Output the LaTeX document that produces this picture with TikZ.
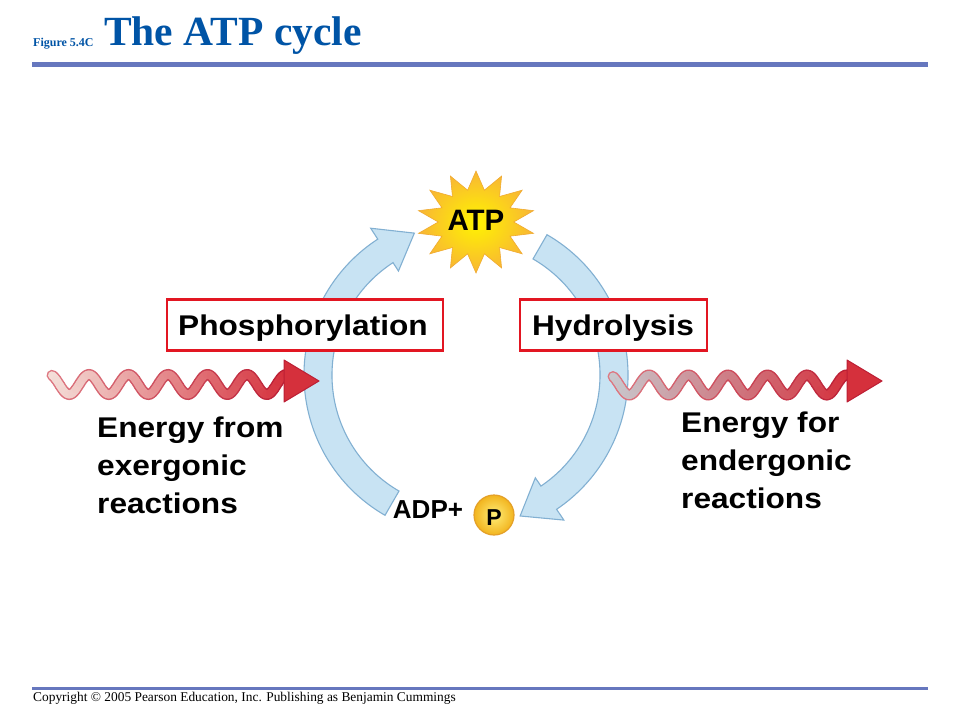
\documentclass[tikz,border=0pt]{standalone}
\usepackage{fontspec}
\setmainfont{Liberation Serif}
\setsansfont{Liberation Sans}
\newfontfamily\widesans[FakeStretch=1.11]{Liberation Sans}
\definecolor{titleblue}{RGB}{0,84,166}
\definecolor{rulecol}{RGB}{102,119,190}
\definecolor{arcfill}{RGB}{200,227,243}
\definecolor{arcline}{RGB}{130,176,210}
\definecolor{boxred}{RGB}{226,22,34}
\definecolor{waveL}{RGB}{244,222,216}
\definecolor{waveR}{RGB}{213,48,60}
\definecolor{waveG}{RGB}{200,200,205}
\definecolor{waveO}{RGB}{188,30,52}
\definecolor{waveOL}{RGB}{222,120,130}
\definecolor{starin}{RGB}{255,244,0}
\definecolor{starout}{RGB}{248,182,52}
\definecolor{starline}{RGB}{240,170,50}
\definecolor{pin}{RGB}{255,238,120}
\definecolor{pout}{RGB}{242,180,30}
\definecolor{pline}{RGB}{228,160,40}
\tikzset{
  cyclearrow/.style={fill=arcfill, draw=arcline, line width=1.1pt, line join=miter},
  redbox/.style={draw=boxred, line width=2.8pt, fill=white, inner sep=0pt},
  boxtext/.style={font=\widesans\bfseries\fontsize{28.5}{34}\selectfont, inner sep=0pt, anchor=base},
  biglabel/.style={font=\widesans\bfseries\fontsize{28.5}{38}\selectfont, align=left, inner sep=0pt, anchor=north west},
  rulestyle/.style={draw=rulecol},
}
\begin{document}
\begin{tikzpicture}[x=1pt,y=-1pt]
\useasboundingbox (0,0) rectangle (960,720);
\fill[white] (0,0) rectangle (960,720);

% title and rules
\node[anchor=base west, inner sep=0pt, text=titleblue, font=\bfseries\fontsize{12}{14}\selectfont] (fig) at (33,46) {Figure 5.4C};
\node[anchor=base west, inner sep=0pt, text=titleblue, font=\bfseries\fontsize{41.5}{46}\selectfont] (title) at (104,45) {The ATP cycle};
\draw[rulestyle, line width=5pt] (32,64.5) -- (928,64.5);
\draw[rulestyle, line width=3pt] (32,688.5) -- (928,688.5);
\node[anchor=base west, inner sep=0pt, font=\fontsize{13.4}{15}\selectfont] (copy) at (33,701.5) {Copyright \textcopyright\ 2005 Pearson Education, Inc. Publishing as Benjamin Cummings};

% cycle arrows
\begin{scope}[shift={(466,375)}, yscale=-1]
\draw[cyclearrow] (240:162) arc[start angle=240,end angle=123,radius=162] -- (123:175) -- (110:151) -- (123:124) -- (123:134) arc[start angle=123,end angle=240,radius=134] -- cycle;
\draw[cyclearrow] (60:162) arc[start angle=60,end angle=-56,radius=162] -- (-56:175) -- (-69:151) -- (-56:124) -- (-56:134) arc[start angle=-56,end angle=60,radius=134] -- cycle;
\end{scope}

% boxes
\node[redbox, minimum width=276pt, minimum height=51pt] (phos) at (305,325) {};
\node[boxtext] (phoslbl) at (303,335) {Phosphorylation};
\node[redbox, minimum width=187pt, minimum height=51pt] (hydro) at (613.5,325) {};
\node[boxtext] (hydrolbl) at (613,335) {Hydrolysis};

% ATP star
\coordinate (atpc) at (476,222);
\path[shading=radial, inner color=starin, outer color=starout, draw=starline, line width=0.6pt]
  ([shift={(atpc)}]90:59 and 51)
  \foreach \k [evaluate=\k as \r using {mod(\k,2)==0 ? 1 : 0.64}] in {1,...,27} {
    -- ([shift={(atpc)}]{90+\k*360/28}:{59*\r} and {51*\r})
  } -- cycle;
\node[font=\sffamily\bfseries\fontsize{29.5}{36}\selectfont, inner sep=0pt, anchor=base] (atp) at (476,230) {ATP};

% ADP + P
\node[font=\sffamily\bfseries\fontsize{26}{30}\selectfont, inner sep=0pt, anchor=base] (adp) at (428,518) {ADP+};
\node[circle, minimum size=40pt, inner sep=0pt, shading=radial, inner color=pin, outer color=pout, draw=pline, line width=1.2pt] (pp) at (494,515) {};
\node[font=\sffamily\bfseries\fontsize{23}{26}\selectfont, inner sep=0pt, anchor=base] (plbl) at (494,525) {P};

% left wave
\foreach \i in {0,...,59} {
  \pgfmathsetmacro\ta{52+\i*3.967}
  \pgfmathsetmacro\tb{52+(\i+1)*3.967}
  \pgfmathsetmacro\pc{100*\i/59}
  \draw[line width=11pt, line cap=round, color=waveO!\pc!waveOL] plot[domain=\ta:\tb, samples=4] (\x,{384.5-10*cos(9.114*(\x-89))});
}
\foreach \i in {0,...,59} {
  \pgfmathsetmacro\ta{52+\i*3.967}
  \pgfmathsetmacro\tb{52+(\i+1)*3.967}
  \pgfmathsetmacro\pc{100*\i/59}
  \draw[line width=8pt, line cap=round, color=waveR!\pc!waveL] plot[domain=\ta:\tb, samples=4] (\x,{384.5-10*cos(9.114*(\x-89))});
}
\coordinate (lwb1) at (284,360);
\coordinate (lwt) at (319,381);
\coordinate (lwb2) at (284,402);
\draw[fill=waveR, draw=waveO, line width=1pt, line join=round] (lwb1) -- (lwt) -- (lwb2) -- cycle;

% right wave
\foreach \i in {0,...,59} {
  \pgfmathsetmacro\ta{613+\i*3.983}
  \pgfmathsetmacro\tb{613+(\i+1)*3.983}
  \pgfmathsetmacro\pc{100*\i/59}
  \draw[line width=11pt, line cap=round, color=waveO!\pc!waveOL] plot[domain=\ta:\tb, samples=4] (\x,{385-10*cos(9.114*(\x-649))});
}
\foreach \i in {0,...,59} {
  \pgfmathsetmacro\ta{613+\i*3.983}
  \pgfmathsetmacro\tb{613+(\i+1)*3.983}
  \pgfmathsetmacro\pc{100*\i/59}
  \draw[line width=8pt, line cap=round, color=waveR!\pc!waveG] plot[domain=\ta:\tb, samples=4] (\x,{385-10*cos(9.114*(\x-649))});
}
\coordinate (rwb1) at (847,360);
\coordinate (rwt) at (882,381);
\coordinate (rwb2) at (847,402);
\draw[fill=waveR, draw=waveO, line width=1pt, line join=round] (rwb1) -- (rwt) -- (rwb2) -- cycle;

% energy labels
\node[biglabel] (eleft) at (97,417) {Energy from\\exergonic\\reactions};
\node[biglabel] (eright) at (681,412) {Energy for\\endergonic\\reactions};
\end{tikzpicture}
\end{document}
